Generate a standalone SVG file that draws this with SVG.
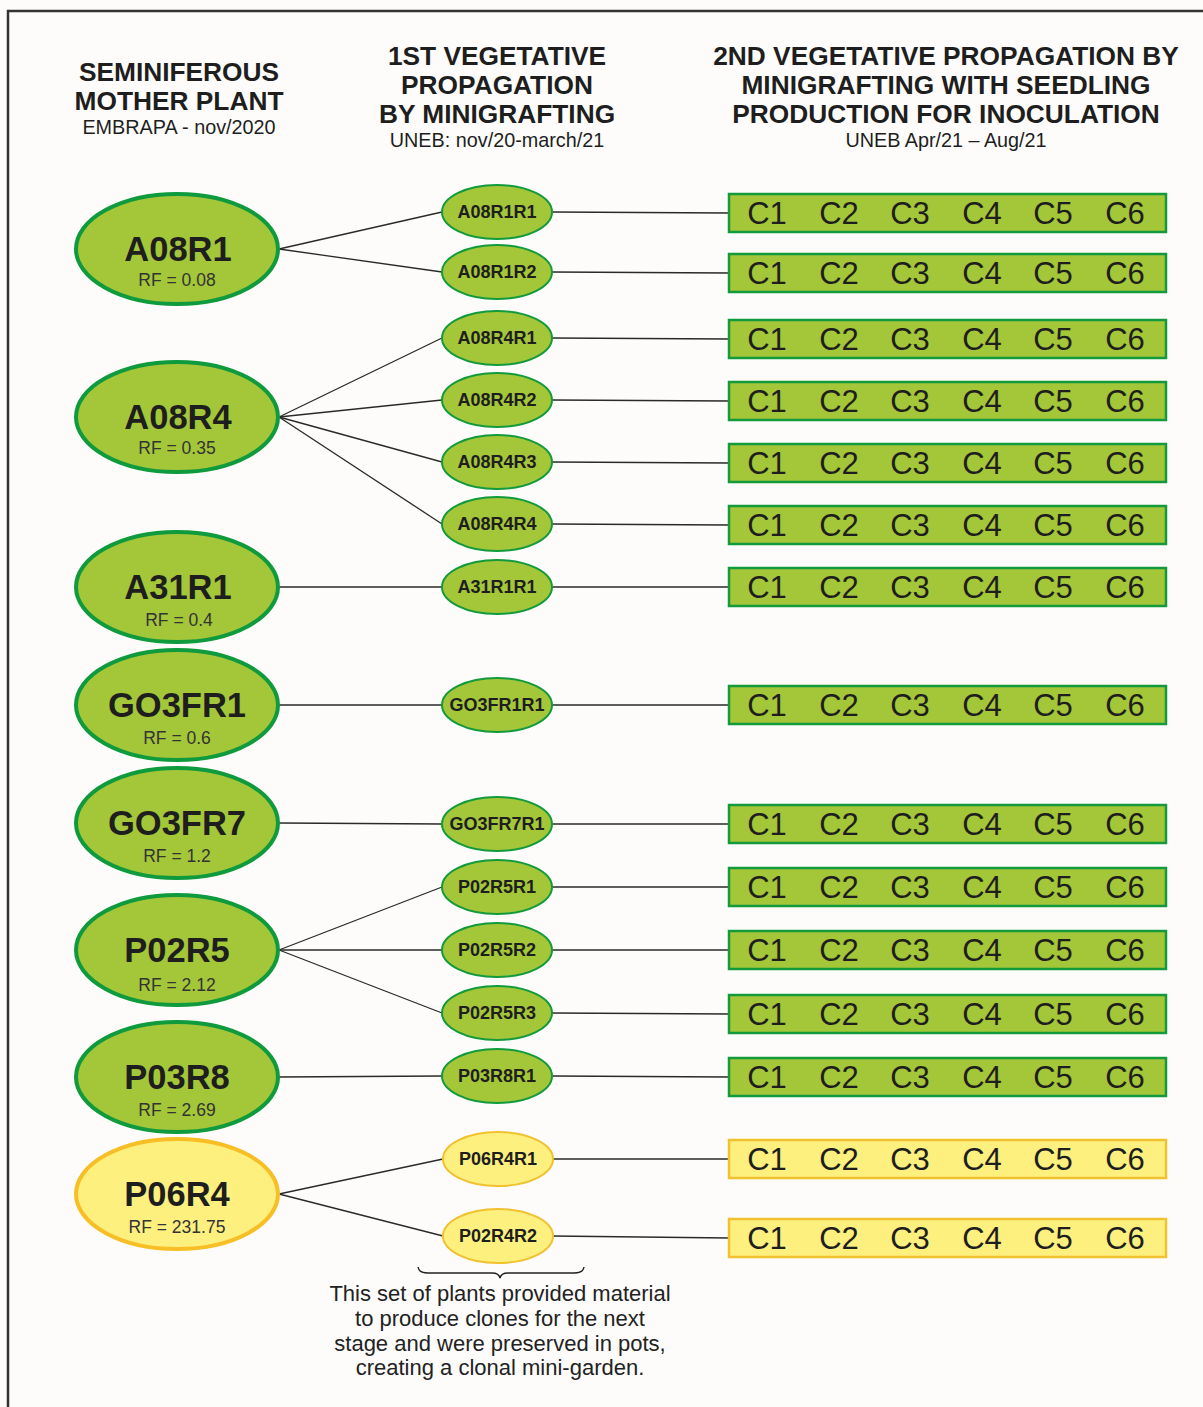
<svg xmlns="http://www.w3.org/2000/svg" width="1203" height="1407" viewBox="0 0 1203 1407">
<style>
text{font-family:"Liberation Sans",Arial,sans-serif;fill:#1e1e1e}
.h{font-size:26.3px;font-weight:bold;text-anchor:middle}
.hs{font-size:19.8px;text-anchor:middle}
.mg ellipse{fill:#a4c639;stroke:#0f9a3e;stroke-width:4}
.my ellipse{fill:#fdf07f;stroke:#f7bf25;stroke-width:4}
.cg ellipse{fill:#a4c639;stroke:#129a3d;stroke-width:2}
.cy ellipse{fill:#fdf07f;stroke:#f2c130;stroke-width:2}
.mn{font-size:34.5px;font-weight:bold;text-anchor:middle}
.rf{font-size:17.5px;text-anchor:middle;fill:#333}
.cn{font-size:18px;font-weight:bold;text-anchor:middle}
.bg rect{fill:#a4c639;stroke:#129a3d;stroke-width:2.5}
.by rect{fill:#fdf07f;stroke:#f2c130;stroke-width:2.5}
.c{font-size:31px;text-anchor:middle}
#connectors line{stroke:#2a2a2a;stroke-width:1.3}
.note{font-size:22px;text-anchor:middle;fill:#222}
</style>
<rect x="0" y="0" width="1203" height="1407" fill="#fdfcfa"/>
<rect x="8" y="11" width="1220" height="1420" fill="none" stroke="#333" stroke-width="2.5"/>
<g id="headers">
<text class="h" x="179" y="81">SEMINIFEROUS</text>
<text class="h" x="179" y="110">MOTHER PLANT</text>
<text class="hs" x="179" y="134">EMBRAPA - nov/2020</text>
<text class="h" x="497" y="65">1ST VEGETATIVE</text>
<text class="h" x="497" y="94">PROPAGATION</text>
<text class="h" x="497" y="123">BY MINIGRAFTING</text>
<text class="hs" x="497" y="147">UNEB: nov/20-march/21</text>
<text class="h" x="946" y="65">2ND VEGETATIVE PROPAGATION BY</text>
<text class="h" x="946" y="94">MINIGRAFTING WITH SEEDLING</text>
<text class="h" x="946" y="123">PRODUCTION FOR INOCULATION</text>
<text class="hs" x="946" y="147">UNEB Apr/21 – Aug/21</text>
</g>
<g id="connectors">
<line x1="279" y1="249" x2="442" y2="212"/>
<line x1="279" y1="249" x2="442" y2="272"/>
<line x1="279" y1="417" x2="442" y2="338"/>
<line x1="279" y1="417" x2="442" y2="400"/>
<line x1="279" y1="417" x2="442" y2="462"/>
<line x1="279" y1="417" x2="442" y2="524"/>
<line x1="279" y1="587" x2="442" y2="587"/>
<line x1="279" y1="705" x2="442" y2="705"/>
<line x1="279" y1="823" x2="442" y2="824"/>
<line x1="279" y1="950" x2="442" y2="887"/>
<line x1="279" y1="950" x2="442" y2="950"/>
<line x1="279" y1="950" x2="442" y2="1013"/>
<line x1="279" y1="1077" x2="442" y2="1076"/>
<line x1="279" y1="1194" x2="443" y2="1159"/>
<line x1="279" y1="1194" x2="443" y2="1236"/>
<line x1="552" y1="212" x2="729" y2="213"/>
<line x1="552" y1="272" x2="729" y2="273"/>
<line x1="552" y1="338" x2="729" y2="339"/>
<line x1="552" y1="400" x2="729" y2="401"/>
<line x1="552" y1="462" x2="729" y2="463"/>
<line x1="552" y1="524" x2="729" y2="525"/>
<line x1="552" y1="587" x2="729" y2="587"/>
<line x1="552" y1="705" x2="729" y2="705"/>
<line x1="552" y1="824" x2="729" y2="824"/>
<line x1="552" y1="887" x2="729" y2="887"/>
<line x1="552" y1="950" x2="729" y2="950"/>
<line x1="552" y1="1013" x2="729" y2="1014"/>
<line x1="552" y1="1076" x2="729" y2="1077"/>
<line x1="552" y1="1159" x2="729" y2="1159"/>
<line x1="552" y1="1236" x2="729" y2="1238"/>
</g>
<g id="m-A08R1" class="mg"><ellipse cx="177" cy="249" rx="101" ry="55"/><text class="mn" x="178" y="261">A08R1</text><text class="rf" x="177" y="286">RF = 0.08</text></g>
<g id="m-A08R4" class="mg"><ellipse cx="177" cy="417" rx="101" ry="55"/><text class="mn" x="178" y="429">A08R4</text><text class="rf" x="177" y="454">RF = 0.35</text></g>
<g id="m-A31R1" class="mg"><ellipse cx="177" cy="587" rx="101" ry="55"/><text class="mn" x="178" y="599">A31R1</text><text class="rf" x="179" y="626">RF = 0.4</text></g>
<g id="m-GO3FR1" class="mg"><ellipse cx="177" cy="705" rx="101" ry="55"/><text class="mn" x="177" y="717">GO3FR1</text><text class="rf" x="177" y="744">RF = 0.6</text></g>
<g id="m-GO3FR7" class="mg"><ellipse cx="177" cy="823" rx="101" ry="55"/><text class="mn" x="177" y="835">GO3FR7</text><text class="rf" x="177" y="862">RF = 1.2</text></g>
<g id="m-P02R5" class="mg"><ellipse cx="177" cy="950" rx="101" ry="55"/><text class="mn" x="177" y="962">P02R5</text><text class="rf" x="177" y="991">RF = 2.12</text></g>
<g id="m-P03R8" class="mg"><ellipse cx="177" cy="1077" rx="101" ry="55"/><text class="mn" x="177" y="1089">P03R8</text><text class="rf" x="177" y="1116">RF = 2.69</text></g>
<g id="m-P06R4" class="my"><ellipse cx="177" cy="1194" rx="101" ry="55"/><text class="mn" x="177" y="1206">P06R4</text><text class="rf" x="177" y="1233">RF = 231.75</text></g>
<g id="c-A08R1R1" class="cg"><ellipse cx="497" cy="212" rx="55" ry="27"/><text class="cn" x="497" y="218">A08R1R1</text></g>
<g id="c-A08R1R2" class="cg"><ellipse cx="497" cy="272" rx="55" ry="27"/><text class="cn" x="497" y="278">A08R1R2</text></g>
<g id="c-A08R4R1" class="cg"><ellipse cx="497" cy="338" rx="55" ry="27"/><text class="cn" x="497" y="344">A08R4R1</text></g>
<g id="c-A08R4R2" class="cg"><ellipse cx="497" cy="400" rx="55" ry="27"/><text class="cn" x="497" y="406">A08R4R2</text></g>
<g id="c-A08R4R3" class="cg"><ellipse cx="497" cy="462" rx="55" ry="27"/><text class="cn" x="497" y="468">A08R4R3</text></g>
<g id="c-A08R4R4" class="cg"><ellipse cx="497" cy="524" rx="55" ry="27"/><text class="cn" x="497" y="530">A08R4R4</text></g>
<g id="c-A31R1R1" class="cg"><ellipse cx="497" cy="587" rx="55" ry="27"/><text class="cn" x="497" y="593">A31R1R1</text></g>
<g id="c-GO3FR1R1" class="cg"><ellipse cx="497" cy="705" rx="55" ry="27"/><text class="cn" x="497" y="711">GO3FR1R1</text></g>
<g id="c-GO3FR7R1" class="cg"><ellipse cx="497" cy="824" rx="55" ry="27"/><text class="cn" x="497" y="830">GO3FR7R1</text></g>
<g id="c-P02R5R1" class="cg"><ellipse cx="497" cy="887" rx="55" ry="27"/><text class="cn" x="497" y="893">P02R5R1</text></g>
<g id="c-P02R5R2" class="cg"><ellipse cx="497" cy="950" rx="55" ry="27"/><text class="cn" x="497" y="956">P02R5R2</text></g>
<g id="c-P02R5R3" class="cg"><ellipse cx="497" cy="1013" rx="55" ry="27"/><text class="cn" x="497" y="1019">P02R5R3</text></g>
<g id="c-P03R8R1" class="cg"><ellipse cx="497" cy="1076" rx="55" ry="27"/><text class="cn" x="497" y="1082">P03R8R1</text></g>
<g id="c-P06R4R1" class="cy"><ellipse cx="498" cy="1159" rx="55" ry="27"/><text class="cn" x="498" y="1165">P06R4R1</text></g>
<g id="c-P02R4R2" class="cy"><ellipse cx="498" cy="1236" rx="55" ry="27"/><text class="cn" x="498" y="1242">P02R4R2</text></g>
<defs>
<g id="cl">
<text class="c" x="767">C1</text><text class="c" x="839">C2</text><text class="c" x="910">C3</text><text class="c" x="982">C4</text><text class="c" x="1053">C5</text><text class="c" x="1125">C6</text>
</g>
</defs>
<g id="b1" class="bg"><rect x="729" y="194" width="437" height="38"/><use href="#cl" y="224"/></g>
<g id="b2" class="bg"><rect x="729" y="254" width="437" height="38"/><use href="#cl" y="284"/></g>
<g id="b3" class="bg"><rect x="729" y="320" width="437" height="38"/><use href="#cl" y="350"/></g>
<g id="b4" class="bg"><rect x="729" y="382" width="437" height="38"/><use href="#cl" y="412"/></g>
<g id="b5" class="bg"><rect x="729" y="444" width="437" height="38"/><use href="#cl" y="474"/></g>
<g id="b6" class="bg"><rect x="729" y="506" width="437" height="38"/><use href="#cl" y="536"/></g>
<g id="b7" class="bg"><rect x="729" y="568" width="437" height="38"/><use href="#cl" y="598"/></g>
<g id="b8" class="bg"><rect x="729" y="686" width="437" height="38"/><use href="#cl" y="716"/></g>
<g id="b9" class="bg"><rect x="729" y="805" width="437" height="38"/><use href="#cl" y="835"/></g>
<g id="b10" class="bg"><rect x="729" y="868" width="437" height="38"/><use href="#cl" y="898"/></g>
<g id="b11" class="bg"><rect x="729" y="931" width="437" height="38"/><use href="#cl" y="961"/></g>
<g id="b12" class="bg"><rect x="729" y="995" width="437" height="38"/><use href="#cl" y="1025"/></g>
<g id="b13" class="bg"><rect x="729" y="1058" width="437" height="38"/><use href="#cl" y="1088"/></g>
<g id="b14" class="by"><rect x="729" y="1140" width="437" height="38"/><use href="#cl" y="1170"/></g>
<g id="b15" class="by"><rect x="729" y="1219" width="437" height="38"/><use href="#cl" y="1249"/></g>
<g id="note">
<path d="M418,1267 Q419,1273 428,1273 L492,1273 Q499,1273 500,1278 Q501,1273 508,1273 L574,1273 Q583,1273 584,1267" fill="none" stroke="#222" stroke-width="1.5"/>
<text class="note" x="500" y="1301">This set of plants provided material</text>
<text class="note" x="500" y="1326">to produce clones for the next</text>
<text class="note" x="500" y="1351">stage and were preserved in pots,</text>
<text class="note" x="500" y="1375">creating a clonal mini-garden.</text>
</g>
</svg>
